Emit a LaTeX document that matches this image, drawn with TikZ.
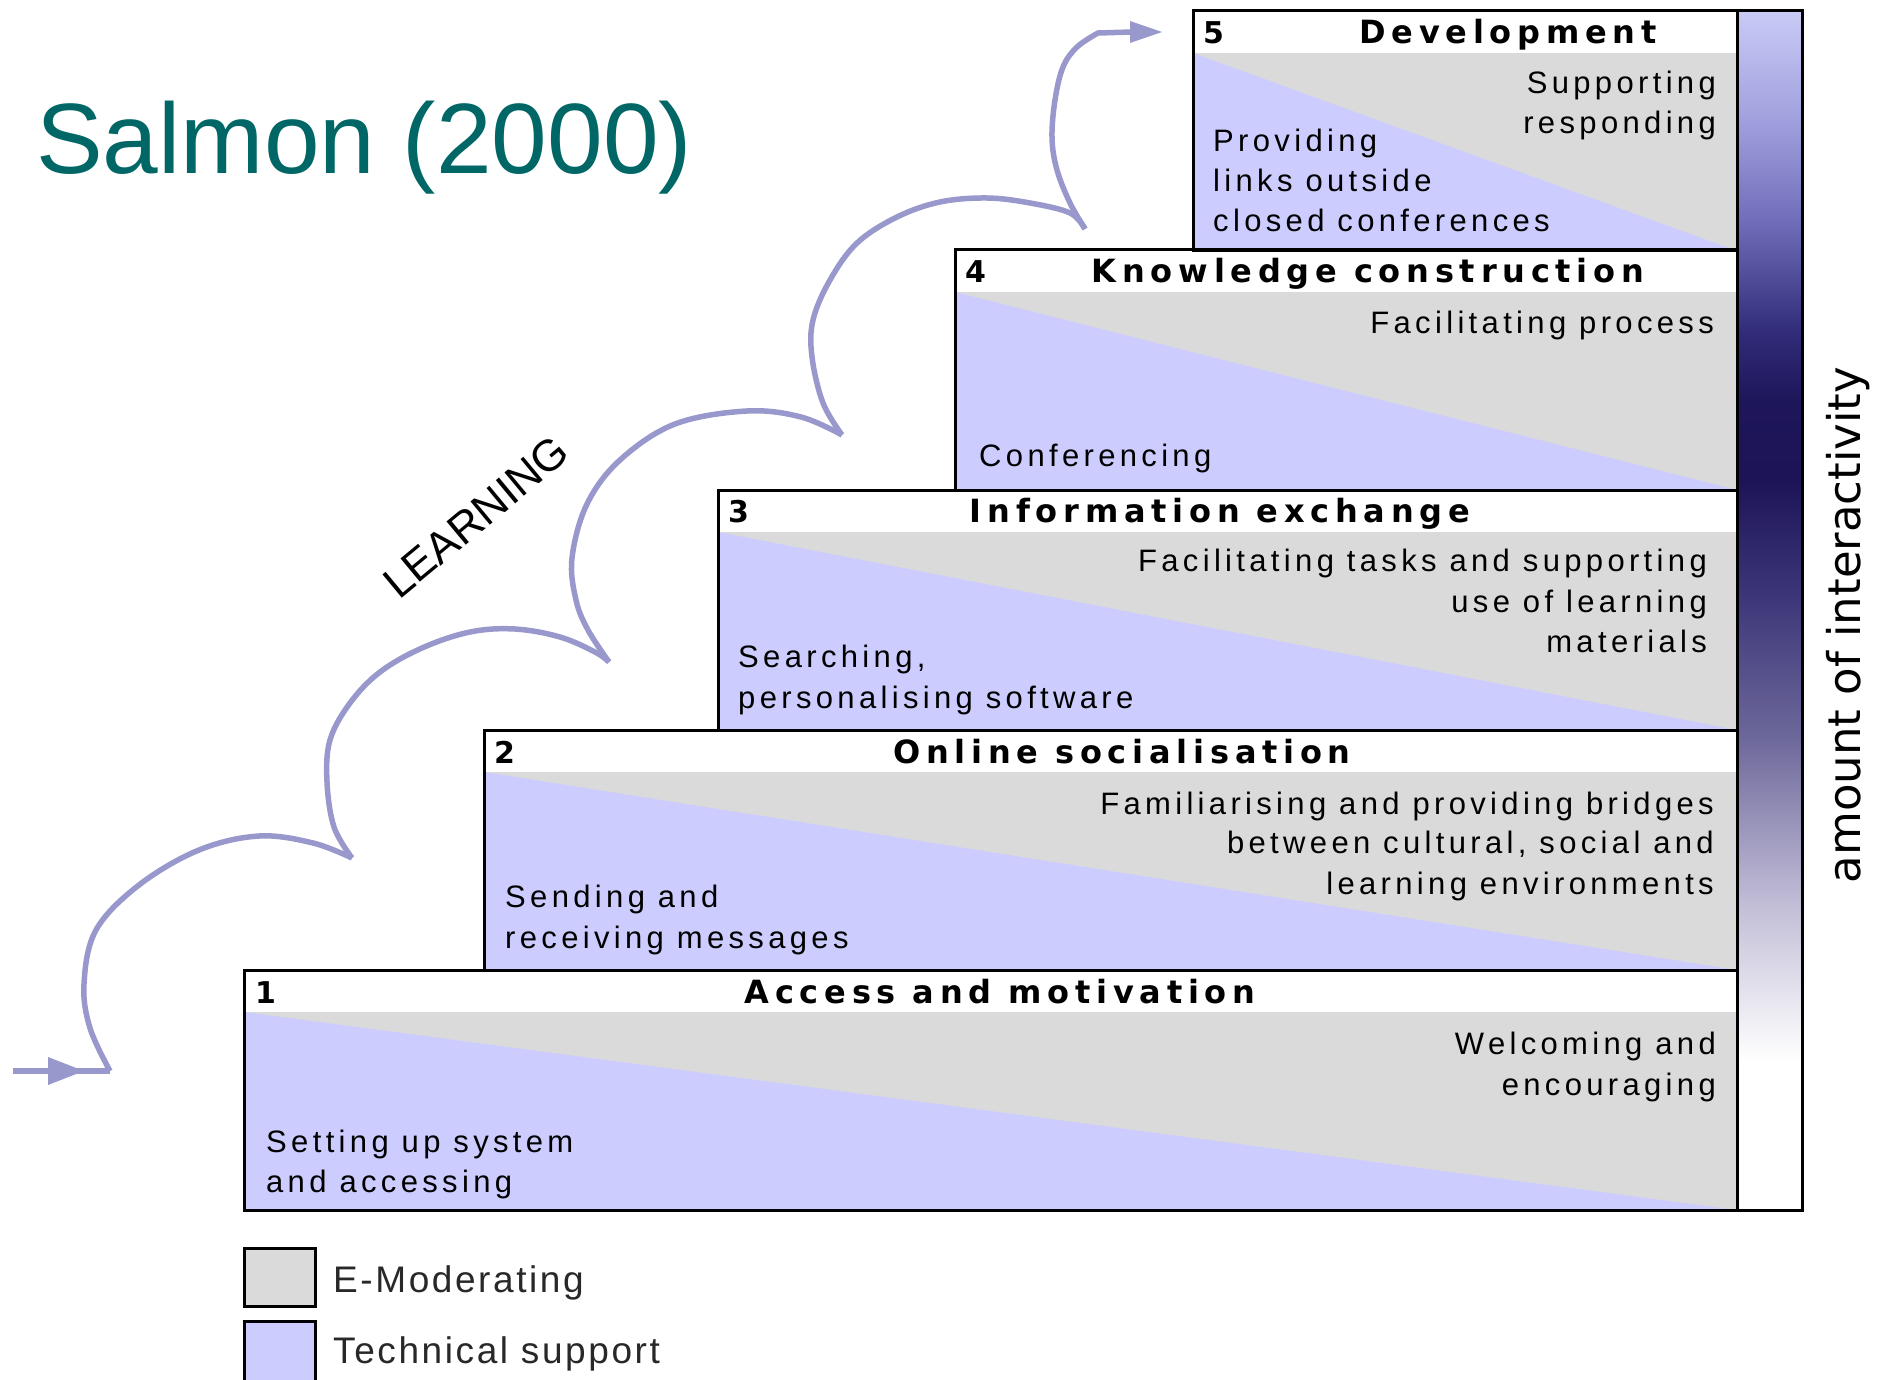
\documentclass[tikz,border=0pt]{standalone}
\usepackage{fontspec}
\setmainfont{Liberation Sans}
\newfontfamily\bodyfont[LetterSpace=14]{Liberation Sans}
\newfontfamily\headfont[LetterSpace=18]{DejaVu Sans}
\newfontfamily\numfont{DejaVu Sans}
\newfontfamily\legfont[LetterSpace=7]{Liberation Sans}
\newfontfamily\learnfont{Liberation Sans}
\newfontfamily\vertfont{DejaVu Sans}
\definecolor{emod}{RGB}{218,218,218}
\definecolor{tech}{RGB}{204,204,255}
\definecolor{arcc}{RGB}{152,152,204}
\definecolor{titlec}{RGB}{0,102,102}
\definecolor{b0}{RGB}{202,202,246}
\definecolor{b1}{RGB}{160,160,222}
\definecolor{b2}{RGB}{112,110,186}
\definecolor{b3}{RGB}{50,45,122}
\definecolor{b4}{RGB}{30,22,90}
\definecolor{b5}{RGB}{28,20,86}
\definecolor{b6}{RGB}{62,56,122}
\definecolor{b7}{RGB}{110,105,155}
\definecolor{b8}{RGB}{192,188,214}
\tikzset{
  body/.style={font=\bodyfont\fontsize{31}{40}\selectfont, inner sep=0pt},
  lt/.style={body, anchor=base west},
  rt/.style={body, anchor=base east},
  head/.style={font=\headfont\bfseries\fontsize{32}{38}\selectfont, inner sep=0pt, anchor=base},
  num/.style={font=\numfont\bfseries\fontsize{30}{36}\selectfont, inner sep=0pt, anchor=base west},
  boxline/.style={draw=black, line width=3pt},
  arcline/.style={draw=arcc, line width=5.5pt},
  legtext/.style={font=\legfont\fontsize{37}{44}\selectfont, text={rgb,255:red,40;green,40;blue,40}, inner sep=0pt, anchor=base west}
}
\begin{document}
\begin{tikzpicture}[x=1pt,y=-1pt]
\useasboundingbox (0,0) rectangle (1878,1380);
% boxes
\foreach \n/\l/\t in {1/244/970,2/484/730,3/718/490,4/955/250,5/1193/11}{
  \fill[white] (\l,\t) rectangle (1737,\t+42);
  \fill[emod] (\l,\t+42) rectangle (1737,\t+240);
  \fill[tech] (\l,\t+42) -- (\l,\t+240) -- (1737,\t+240) -- cycle;
}
\foreach \n/\l/\t in {1/244/970,2/484/730,3/718/490,4/955/250,5/1193/11}{
  \draw[boxline] (\l,\t) rectangle (1737,\t+240);
}
% interactivity bar
\shade[top color=b0, bottom color=b1] (1737,11) rectangle (1802,121);
\shade[top color=b1, bottom color=b2] (1737,120) rectangle (1802,221);
\shade[top color=b2, bottom color=b3] (1737,220) rectangle (1802,331);
\shade[top color=b3, bottom color=b4] (1737,330) rectangle (1802,401);
\shade[top color=b4, bottom color=b5] (1737,400) rectangle (1802,481);
\shade[top color=b5, bottom color=b6] (1737,480) rectangle (1802,601);
\shade[top color=b6, bottom color=b7] (1737,600) rectangle (1802,741);
\shade[top color=b7, bottom color=b8] (1737,740) rectangle (1802,901);
\shade[top color=b8, bottom color=white] (1737,900) rectangle (1802,1061);
\draw[boxline] (1737,11) rectangle (1802,1210);
\node[font=\vertfont\fontsize{45}{54}\selectfont, rotate=90, anchor=base, inner sep=0pt] (axis) at (1860,625) {amount of interactivity};
% title
\node[font=\fontsize{100}{120}\selectfont, text=titlec, anchor=base west, inner sep=0pt] (title) at (36,174) {Salmon (2000)};
% box 5
\node[num] (n5) at (1203,44) {5};
\node[head] (h5) at (1508,44) {Development};
\node[rt] (r5a) at (1716,94) {Supporting};
\node[rt] (r5b) at (1716,134) {responding};
\node[lt] (l5a) at (1213,152) {Providing};
\node[lt] (l5b) at (1213,192) {links outside};
\node[lt] (l5c) at (1213,232) {closed conferences};
% box 4
\node[num] (n4) at (965,283) {4};
\node[head] (h4) at (1368,283) {Knowledge construction};
\node[rt] (r4a) at (1714,333) {Facilitating process};
\node[lt] (l4a) at (979,466) {Conferencing};
% box 3
\node[num] (n3) at (728,522) {3};
\node[head] (h3) at (1220,522) {Information exchange};
\node[rt] (r3a) at (1707,571) {Facilitating tasks and supporting};
\node[rt] (r3b) at (1707,612) {use of learning};
\node[rt] (r3c) at (1707,652) {materials};
\node[lt] (l3a) at (738,667) {Searching,};
\node[lt] (l3b) at (738,708) {personalising software};
% box 2
\node[num] (n2) at (494,763) {2};
\node[head] (h2) at (1122,763) {Online socialisation};
\node[rt] (r2a) at (1714,814) {Familiarising and providing bridges};
\node[rt] (r2b) at (1714,853) {between cultural, social and};
\node[rt] (r2c) at (1714,894) {learning environments};
\node[lt] (l2a) at (505,907) {Sending and};
\node[lt] (l2b) at (505,948) {receiving messages};
% box 1
\node[num] (n1) at (255,1003) {1};
\node[head] (h1) at (1000,1003) {Access and motivation};
\node[rt] (r1a) at (1716,1054) {Welcoming and};
\node[rt] (r1b) at (1716,1095) {encouraging};
\node[lt] (l1a) at (266,1152) {Setting up system};
\node[lt] (l1b) at (266,1192) {and accessing};
% legend
\draw[boxline, fill=emod] (244,1248) rectangle (315,1306);
\draw[boxline, fill=tech] (244,1321) rectangle (315,1400);
\node[legtext] (leg1) at (333,1292) {E-Moderating};
\node[legtext] (leg2) at (333,1363) {Technical support};
% learning path
\coordinate (p0) at (13,1071);
\coordinate (p1) at (110,1071);
\coordinate (p2) at (352,858);
\coordinate (p3) at (609,662);
\coordinate (p4) at (842,435);
\coordinate (p5) at (1085,229);
\coordinate (pe) at (1132,32);
\coordinate (pt) at (1162,32);
\draw[arcline] (p0) -- (p1);
\fill[arcc] (48,1057) -- (84,1071) -- (48,1085) -- cycle;
\draw[arcline] plot[smooth, tension=0.6] coordinates {(p1) (90,1028) (84,984) (96,930) (139,885) (199,850) (259,836) (313,843) (p2)};
\draw[arcline] plot[smooth, tension=0.6] coordinates {(p2) (334,827) (327,782) (330,740) (350,703) (380,672) (422,648) (470,632) (515,629) (560,637) (595,652) (p3)};
\draw[arcline] plot[smooth, tension=0.6] coordinates {(p3) (588,630) (576,600) (572,558) (587,504) (620,460) (675,424) (747,411) (801,417) (p4)};
\draw[arcline] plot[smooth, tension=0.6] coordinates {(p4) (823,403) (812,357) (813,320) (830,280) (857,243) (897,217) (940,202) (987,198) (1030,203) (1070,213) (p5)};
\draw[arcline] plot[smooth, tension=0.6] coordinates {(p5) (1070,203) (1057,170) (1052,138) (1055,100) (1063,67) (1077,47) (1098,33)} -- (pe);
\fill[arcc] (1130,21) -- (pt) -- (1130,43) -- cycle;
\node[font=\learnfont\fontsize{44}{50}\selectfont, rotate=39.7, inner sep=0pt] (learn) at (476,517) {LEARNING};
\end{tikzpicture}
\end{document}
